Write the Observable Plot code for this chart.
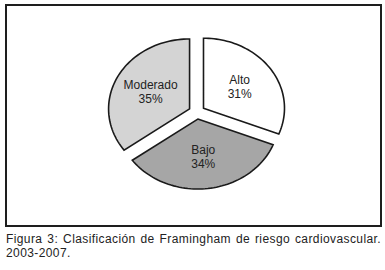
<!DOCTYPE html>
<html>
<head>
<meta charset="utf-8">
<script src="https://cdn.jsdelivr.net/npm/d3@7"></script>
<script src="https://cdn.jsdelivr.net/npm/@observablehq/plot@0.6"></script>
<style>
  html, body { margin: 0; padding: 0; background: #fff; }
  body { width: 385px; height: 270px; position: relative; overflow: hidden;
         font-family: "Liberation Sans", Arial, sans-serif; color: #222; }
  #box { position: absolute; left: 5px; top: 4px; width: 373px; height: 219px;
         border: 2px solid #1e1e1e; }
  #box svg { display: block; }
  #caption { position: absolute; left: 6px; top: 232px; width: 375px;
             font-size: 12px; line-height: 14px; text-align: justify;
             text-align-last: left; color: #222; letter-spacing: 0.4px; }
</style>
</head>
<body>
<div id="box"></div>
<div id="caption">Figura 3: Clasificación de Framingham de riesgo cardiovascular. 2003-2007.</div>
<script>
// Data
const categories = ["Alto", "Bajo", "Moderado"];
const values = [31, 34, 35];
const sliceColors = ["#ffffff", "#a6a6a6", "#d4d4d4"];

// Geometry (in unit-circle space)
const explode = 0.1;
const labelRadius = 0.54;

const pie = d3.pie().sort(null).value(d => d.value).startAngle(0).endAngle(2 * Math.PI);
const slices = pie(categories.map((name, i) => ({name, value: values[i]})));

const outline = [];
const labels = [];
for (const s of slices) {
  const mid = (s.startAngle + s.endAngle) / 2;
  const ox = explode * Math.sin(mid), oy = explode * Math.cos(mid);
  outline.push({name: s.data.name, x: ox, y: oy});
  const n = 60;
  for (let k = 0; k <= n; k++) {
    const a = s.startAngle + (s.endAngle - s.startAngle) * k / n;
    outline.push({name: s.data.name, x: ox + Math.sin(a), y: oy + Math.cos(a)});
  }
  outline.push({name: s.data.name, x: ox, y: oy});
  labels.push({
    name: s.data.name,
    text: s.data.name + "\n" + s.data.value + "%",
    x: ox + labelRadius * Math.sin(mid),
    y: oy + labelRadius * Math.cos(mid)
  });
}

const chart = Plot.plot({
  width: 373,
  height: 219,
  margin: 0,
  style: {background: "transparent", fontFamily: "'Liberation Sans', Arial, sans-serif"},
  x: {domain: [-2.337, 2.268], axis: null},
  y: {domain: [-1.62, 1.509], axis: null},
  color: {domain: categories, range: sliceColors},
  marks: [
    Plot.line(outline, {
      x: "x", y: "y", z: "name", fill: "name",
      stroke: "#1a1a1a", strokeWidth: 1.6,
      strokeLinejoin: "miter", strokeMiterlimit: 10, curve: "linear"
    }),
    Plot.text(labels, {
      x: "x", y: "y", text: "text",
      fontSize: 12, lineHeight: 1.17, fill: "#222"
    })
  ]
});
document.getElementById("box").appendChild(chart);
</script>
</body>
</html>
